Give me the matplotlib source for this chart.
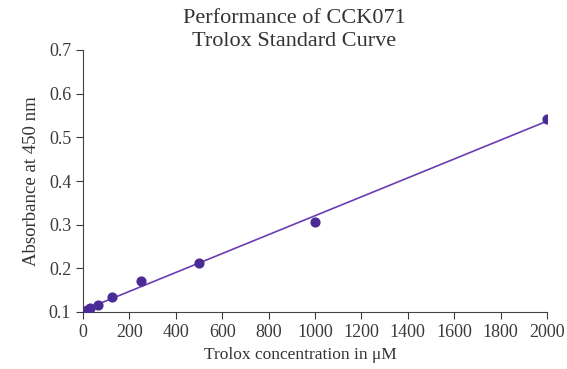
import numpy as np
import matplotlib
matplotlib.use("Agg")
import matplotlib.pyplot as plt

plt.rcParams["font.family"] = ["Liberation Serif", "DejaVu Serif"]

conc = [15.6, 31.25, 62.5, 125, 250, 500, 1000, 2000]
absorb = [0.104, 0.109, 0.116, 0.134, 0.170, 0.213, 0.305, 0.543]
x_ticks = list(range(0, 2001, 200))
y_ticks = [0.1, 0.2, 0.3, 0.4, 0.5, 0.6, 0.7]

fig = plt.figure(figsize=(5.67, 3.69), dpi=100)
ax = fig.add_axes([83 / 567, 1 - 312 / 369, 464 / 567, 262 / 369])

# linear trendline through the standards
slope, intercept = np.polyfit(conc, absorb, 1)
xs = np.array([0, 2000])
ax.plot(xs, slope * xs + intercept, color="#6a3db3", lw=1.2, zorder=2)
ax.scatter(conc, absorb, s=40, color="#4a2b95", zorder=3)

ax.set_xlim(0, 2000)
ax.set_ylim(0.1, 0.7)
ax.set_xticks(x_ticks)
ax.set_yticks(y_ticks)
ax.set_yticklabels([f"{v:.1f}" for v in y_ticks])
ax.tick_params(labelsize=13, colors="#3a3a3a", length=5)
for s in ["top", "right"]:
    ax.spines[s].set_visible(False)
for s in ["left", "bottom"]:
    ax.spines[s].set_color("#444444")

ax.set_ylabel("Absorbance at 450 nm", fontsize=13.5, color="#333333", labelpad=6)
fig.text(300 / 567, 1 - 355 / 369, "Trolox concentration in μM", ha="center", va="center",
         fontsize=12.5, color="#333333")
fig.text(294 / 567, 1 - 30 / 369, "Performance of CCK071\nTrolox Standard Curve", ha="center",
         va="center", fontsize=16, color="#333333", linespacing=1.3)

fig.savefig("out.png", dpi=100)
